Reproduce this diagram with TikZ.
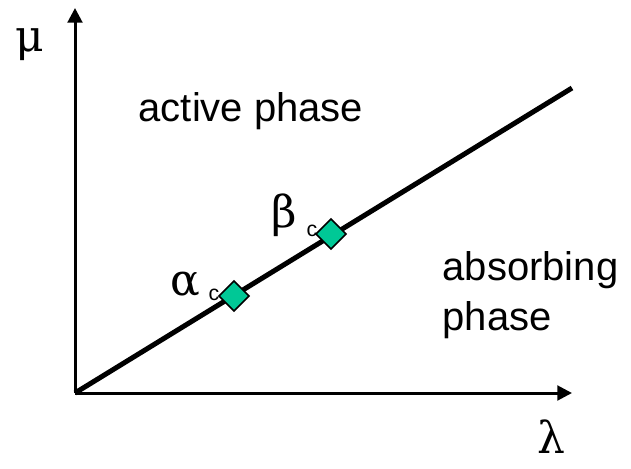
\documentclass[tikz,border=0pt]{standalone}
\usepackage{fontspec}
\setmainfont{Liberation Sans}
\newfontfamily\greekfont{DejaVu Serif}
\usetikzlibrary{shapes.geometric,arrows.meta,positioning}
\definecolor{PointTeal}{HTML}{00C896}
\tikzset{
  axis/.style={line width=2.25pt,-{Triangle[length=11pt,width=11pt]}},
  boundary/.style={line width=3.75pt},
  critpt/.style={diamond,draw=black,line width=1.2pt,fill=PointTeal,minimum width=23pt,minimum height=23pt,inner sep=0pt},
  phaselabel/.style={font=\fontsize{30}{37.5}\selectfont,align=left,anchor=west},
  greeklabel/.style={font=\greekfont\fontsize{33}{36}\selectfont},
  sublabel/.style={font=\fontsize{16}{18}\selectfont},
}
\begin{document}
\begin{tikzpicture}[x=0.75pt,y=-0.75pt]
  \useasboundingbox (0,0) rectangle (631,468);

  % Axes
  \coordinate (O) at (75,393);
  \coordinate (ytop) at (75,8);
  \coordinate (xend) at (572,393);
  \coordinate (lineend) at (572,88);
  \draw[axis] (O) -- (ytop);
  \draw[axis] (O) -- (xend);

  % Phase boundary
  \draw[boundary] (O) -- (lineend);

  % Critical points
  \node[critpt] (alpha) at (234,296) {};
  \node[critpt] (beta) at (331,234) {};

  % Labels
  \node[greeklabel] (mu) at (30,45) {μ};
  \node[greeklabel] (lambda) at (551,437) {λ};
  \node[greeklabel] (alphalbl) at (185,284) {α};
  \node[sublabel] (alphasub) at (214,295) {c};
  \node[greeklabel] (betalbl) at (284,215) {β};
  \node[sublabel] (betasub) at (312,231) {c};
  \node[phaselabel] (active) at (134,111) {active phase};
  \node[phaselabel] (absorb) at (438,295) {absorbing\\phase};
\end{tikzpicture}
\end{document}
